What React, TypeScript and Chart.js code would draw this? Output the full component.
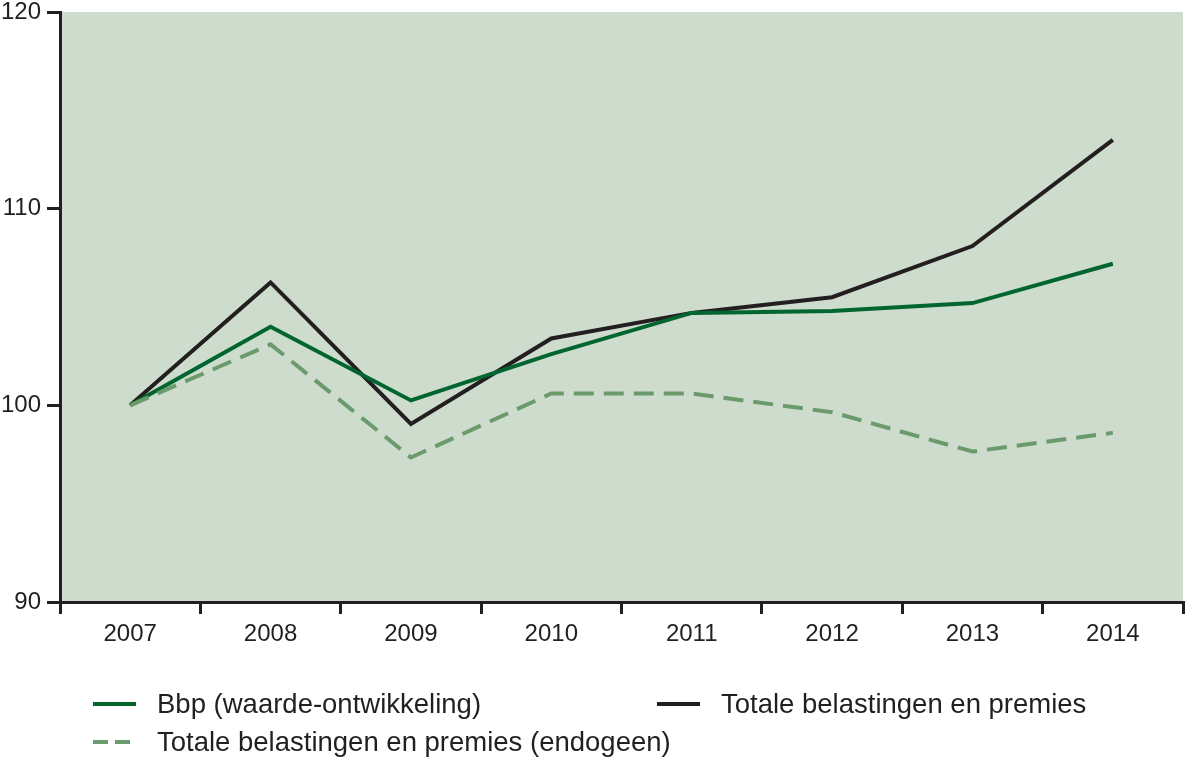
import React, { useEffect, useRef } from "react";
import { Chart, registerables } from "chart.js";

Chart.register(...registerables);

const years = ["2007", "2008", "2009", "2010", "2011", "2012", "2013", "2014"];
const bbp = [100, 104.0, 100.25, 102.6, 104.7, 104.8, 105.2, 107.2];
const totaal = [100, 106.25, 99.05, 103.4, 104.7, 105.5, 108.1, 113.5];
const endogeen = [100, 103.1, 97.35, 100.6, 100.6, 99.65, 97.65, 98.6];
const seriesLabels = [
  "Bbp (waarde-ontwikkeling)",
  "Totale belastingen en premies",
  "Totale belastingen en premies (endogeen)",
];

const FONT = '"Liberation Sans", Arial, Helvetica, sans-serif';
const GREEN = "#00652e";
const BLACK = "#231f20";
const LIGHT = "#6b9a6c";
const BG = "#cddccd";

export default function App() {
  const ref = useRef<HTMLCanvasElement | null>(null);
  useEffect(() => {
    const canvas = ref.current;
    if (!canvas) return;
    const bgPlugin = {
      id: "bgfill",
      beforeDraw(chart: any) {
        const { ctx, chartArea } = chart;
        ctx.save();
        ctx.fillStyle = BG;
        ctx.fillRect(chartArea.left, chartArea.top, chartArea.right - chartArea.left, chartArea.bottom - chartArea.top);
        ctx.restore();
      },
    };
    const legendPlugin = {
      id: "customLegend",
      afterDraw(chart: any) {
        const ctx = chart.ctx;
        const items = [
          { x: 93, y: 704, color: GREEN, dash: [] as number[], text: seriesLabels[0] },
          { x: 657, y: 704, color: BLACK, dash: [] as number[], text: seriesLabels[1] },
          { x: 93, y: 742, color: LIGHT, dash: [15, 7], text: seriesLabels[2] },
        ];
        ctx.save();
        ctx.font = `27.5px ${FONT}`;
        ctx.textBaseline = "middle";
        for (const it of items) {
          ctx.beginPath();
          ctx.setLineDash(it.dash);
          ctx.strokeStyle = it.color;
          ctx.lineWidth = 4;
          ctx.moveTo(it.x, it.y);
          ctx.lineTo(it.x + 43, it.y);
          ctx.stroke();
          ctx.setLineDash([]);
          ctx.fillStyle = BLACK;
          ctx.fillText(it.text, it.x + 64, it.y + 1);
        }
        ctx.restore();
      },
    };
    const chart = new Chart(canvas, {
      type: "line",
      data: {
        labels: years,
        datasets: [
          {
            label: seriesLabels[2],
            data: endogeen,
            borderColor: LIGHT,
            borderWidth: 4,
            borderDash: [20, 10],
            pointRadius: 0,
            tension: 0,
          },
          {
            label: seriesLabels[0],
            data: bbp,
            borderColor: GREEN,
            borderWidth: 4,
            pointRadius: 0,
            tension: 0,
          },
          {
            label: seriesLabels[1],
            data: totaal,
            borderColor: BLACK,
            borderWidth: 4,
            pointRadius: 0,
            tension: 0,
          },
        ],
      },
      options: {
        responsive: false,
        animation: false,
        layout: { padding: { top: 12, right: 2, left: 0, bottom: 0 } },
        plugins: { legend: { display: false }, tooltip: { enabled: false } },
        scales: {
          x: {
            offset: true,
            grid: {
              offset: true,
              drawOnChartArea: false,
              drawTicks: true,
              tickLength: 12,
              color: BLACK,
              lineWidth: 3,
            },
            border: { color: BLACK, width: 3 },
            ticks: { color: BLACK, font: { family: FONT, size: 24 }, padding: 6, maxRotation: 0 },
            afterFit(scale: any) {
              scale.height = 155;
            },
          },
          y: {
            min: 90,
            max: 120,
            grid: {
              drawOnChartArea: false,
              drawTicks: true,
              tickLength: 13,
              color: BLACK,
              lineWidth: 3,
            },
            border: { color: BLACK, width: 3 },
            ticks: { stepSize: 10, color: BLACK, font: { family: FONT, size: 24 }, padding: 6 },
            afterFit(scale: any) {
              scale.width = 60;
              scale.paddingTop = 0;
              scale.paddingBottom = 0;
            },
          },
        },
      },
      plugins: [bgPlugin, legendPlugin],
    });
    return () => chart.destroy();
  }, []);
  return (
    <div style={{ position: "absolute", left: 0, top: 0, width: 1185, height: 757, background: "#fff" }}>
      <canvas ref={ref} width={1185} height={757} style={{ display: "block" }} />
    </div>
  );
}
